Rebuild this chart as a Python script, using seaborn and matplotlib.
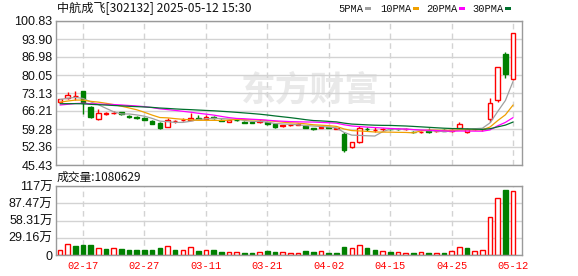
import numpy as np
import pandas as pd
import matplotlib
matplotlib.use("Agg")
import matplotlib.pyplot as plt
from matplotlib.patches import Rectangle
import seaborn as sns

# ---------------- data ----------------
dates = ["02-12", "02-13", "02-14", "02-17", "02-18", "02-19", "02-20", "02-21",
         "02-24", "02-25", "02-26", "02-27", "02-28", "03-03", "03-04", "03-05",
         "03-06", "03-07", "03-10", "03-11", "03-12", "03-13", "03-14", "03-17",
         "03-18", "03-19", "03-20", "03-21", "03-24", "03-25", "03-26", "03-27",
         "03-28", "03-31", "04-01", "04-02", "04-03", "04-07", "04-08", "04-09",
         "04-10", "04-11", "04-14", "04-15", "04-16", "04-17", "04-18", "04-21",
         "04-22", "04-23", "04-24", "04-25", "04-28", "04-29", "04-30", "05-06",
         "05-07", "05-08", "05-09", "05-12"]

opens = [69.6, 71.1, 72.05, 73.9, 67.9, 63.0, 65.2, 65.3, 65.7, 64.2,
         63.9, 63.6, 62.5, 61.7, 60.0, 62.3, 62.7, 62.9, 63.5, 63.2,
         63.8, 62.9, 62.1, 62.9, 62.1, 61.8, 61.8, 61.8, 61.2, 60.3,
         60.8, 61.0, 60.5, 59.5, 59.7, 60.0, 59.4, 57.2, 52.2, 54.2,
         59.4, 58.9, 59.2, 59.4, 59.4, 59.2, 58.2, 58.1, 58.6, 58.5,
         58.9, 58.7, 59.8, 58.0, 59.3, 59.1, 63.0, 70.4, 88.1, 78.4]
highs = [71.0, 73.6, 73.9, 74.0, 68.3, 66.9, 65.9, 66.1, 65.8, 64.8,
         64.1, 63.9, 62.7, 61.8, 63.6, 62.9, 63.5, 65.3, 64.5, 64.7,
         64.3, 63.0, 62.9, 63.1, 62.3, 62.0, 63.1, 61.9, 61.3, 60.9,
         61.3, 61.5, 60.7, 59.8, 60.2, 60.2, 59.8, 58.2, 54.3, 60.3,
         59.9, 59.9, 59.8, 59.7, 59.8, 59.6, 58.6, 58.5, 59.5, 58.9,
         59.1, 59.4, 62.0, 59.5, 59.6, 59.4, 71.2, 83.0, 88.9, 96.3]
lows = [69.4, 71.0, 70.6, 65.2, 63.5, 62.9, 64.5, 64.9, 64.5, 63.7,
        63.2, 62.6, 61.1, 59.3, 59.9, 61.7, 62.2, 62.8, 63.0, 63.0,
        63.1, 62.2, 61.8, 62.4, 61.6, 61.4, 61.5, 60.8, 59.8, 60.1,
        60.6, 60.8, 59.7, 58.9, 59.5, 59.6, 59.1, 50.3, 52.0, 54.0,
        58.4, 58.3, 58.7, 58.9, 58.9, 58.8, 57.6, 57.9, 57.9, 58.2,
        58.5, 58.3, 59.2, 57.8, 58.9, 58.7, 62.1, 69.5, 79.0, 78.3]
closes = [70.8, 72.4, 72.1, 69.2, 64.0, 65.5, 65.3, 65.5, 65.0, 64.0,
          63.7, 62.8, 61.3, 59.8, 62.8, 62.4, 62.75, 63.5, 63.3, 63.9,
          63.5, 62.3, 62.7, 62.75, 61.7, 61.6, 62.3, 61.2, 60.2, 60.8,
          61.0, 61.2, 59.8, 59.3, 60.0, 59.8, 59.5, 51.2, 54.1, 59.5,
          59.1, 59.0, 59.4, 59.1, 59.3, 59.4, 58.0, 58.2, 58.1, 58.6,
          58.5, 58.8, 61.1, 59.2, 59.35, 59.4, 69.2, 83.0, 80.3, 96.3]
# volume in lots (手)
volumes = [85000, 180000, 152000, 169000, 169000, 113000, 101000, 113000, 101000, 85000,
           85000, 85000, 85000, 118000, 146000, 85000, 79000, 130000, 68000, 79000,
           85000, 51000, 51000, 51000, 34000, 34000, 51000, 68000, 51000, 51000,
           34000, 40000, 73000, 56000, 68000, 34000, 34000, 135000, 113000, 164000,
           118000, 85000, 62000, 51000, 45000, 34000, 34000, 45000, 34000, 34000,
           34000, 68000, 135000, 118000, 68000, 85000, 642000, 963000, 1095000, 1080629]
# closes of the 29 sessions before the window (needed for the moving averages)
prior_closes = [72.0, 71.5, 70.8, 70.2, 69.5, 69.8, 70.3, 69.6, 68.9, 67.4,
                66.8, 66.2, 67.0, 67.5, 68.1, 67.6, 67.2, 67.9, 68.3, 67.4,
                68.0, 68.5, 69.2, 68.8, 68.5, 69.8, 70.5, 71.2, 70.7]

price_ticks = [45.43, 52.36, 59.28, 66.21, 73.13, 80.05, 86.98, 93.90, 100.83]
price_tick_labels = ["45.43", "52.36", "59.28", "66.21", "73.13", "80.05", "86.98", "93.90", "100.83"]
vol_ticks = [0, 29.16, 58.31, 87.47, 116.63]
vol_tick_labels = ["0", "29.16万", "58.31万", "87.47万", "117万"]
label_dates = ["02-17", "02-27", "03-11", "03-21", "04-02", "04-15", "04-25", "05-12"]
ma_windows = [5, 10, 20, 30]
ma_names = ["5PMA", "10PMA", "20PMA", "30PMA"]
ma_colors = ["#a0a0a0", "#f0a000", "#ff00ff", "#00702d"]
title_text = "中航成飞[302132] 2025-05-12 15:30"
vol_label = "成交量"
watermark = "东方财富"

RED = "#ff0000"
GREEN = "#008000"
GRID = "#d3d3d3"
SPINE = "#9a9a9a"

# ---------------- derived ----------------
n = len(dates)
idx = np.arange(n)
df = pd.DataFrame({"date": dates, "open": opens, "high": highs, "low": lows,
                   "close": closes, "vol": np.array(volumes) / 1e4, "i": idx})
allc = pd.Series(prior_closes + closes)
for w, name in zip(ma_windows, ma_names):
    df[name] = allc.rolling(w).mean().values[-n:]
prev_close = np.r_[prior_closes[-1], closes[:-1]]
df["vol_up"] = df["close"] >= prev_close

# ---------------- figure ----------------
sns.set_style("white")
plt.rcParams["font.family"] = ["Liberation Sans", "Noto Sans CJK SC", "DejaVu Sans"]

W, H = 578, 276
fig = plt.figure(figsize=(W / 100, H / 100), dpi=100)
fig.patch.set_facecolor("white")
ax = fig.add_axes([56 / W, 1 - 165 / H, 466 / W, 144 / H])
axv = fig.add_axes([56 / W, 1 - 255 / H, 466 / W, 69 / H])

xmin, xmax = -0.52, 60.16
label_pos = [dates.index(d) for d in label_dates]

for a in (ax, axv):
    a.set_xlim(xmin, xmax)
    a.set_facecolor("white")
    for s in a.spines.values():
        s.set_color(SPINE)
        s.set_linewidth(1.0)
    a.set_axisbelow(True)
    a.yaxis.grid(True, color=GRID, linewidth=1.0, linestyle="-")
    a.xaxis.grid(False)
    for p in label_pos:
        a.axvline(p, color=GRID, linewidth=1.0, linestyle=(0, (4, 3)), zorder=0.5)

# watermark
ax.text(310 / W, 1 - 90 / H, watermark, transform=fig.transFigure, fontsize=25,
        fontweight="bold", color="#e9e9e9", ha="center", va="center",
        family=["Noto Sans CJK SC"], zorder=0.3)

# candles
bw = 0.6
for r in df.itertuples():
    up = r.close >= r.open
    col = RED if up else GREEN
    top = max(r.open, r.close)
    bot = min(r.open, r.close)
    h = max(top - bot, 0.06)
    ax.vlines(r.i, top, r.high, color=col, linewidth=1.0, zorder=2)
    ax.vlines(r.i, r.low, bot, color=col, linewidth=1.0, zorder=2)
    ax.bar(r.i, h, bottom=bot, width=bw, facecolor="white" if up else col,
           edgecolor=col, linewidth=1.0, zorder=2.5)

# moving averages
for name, col in zip(ma_names, ma_colors):
    sns.lineplot(data=df, x="i", y=name, color=col, linewidth=0.9, ax=ax,
                 zorder=3, legend=False)

ax.set_ylim(price_ticks[0], price_ticks[-1])
ax.set_yticks(price_ticks)
ax.set_yticklabels(price_tick_labels)
ax.set_xticks([])
ax.set_xlabel("")
ax.set_ylabel("")
ax.tick_params(axis="y", length=0, pad=2.5, labelsize=9, labelcolor="#111111")

# volume bars
for r in df.itertuples():
    col = RED if r.vol_up else GREEN
    axv.bar(r.i, r.vol, width=bw, facecolor="white" if r.vol_up else col,
            edgecolor=col, linewidth=1.0, zorder=2)

axv.set_ylim(0, vol_ticks[-1])
axv.set_yticks(vol_ticks)
axv.set_yticklabels(vol_tick_labels)
axv.tick_params(axis="y", length=0, pad=2.5, labelsize=9, labelcolor="#111111")
axv.set_xticks(label_pos)
axv.set_xticklabels(label_dates, fontsize=7.5, color=RED, family=["Liberation Mono"])
axv.tick_params(axis="x", length=0, pad=4)

# header texts
fig.text(57 / W, 1 - 8.5 / H, title_text, fontsize=8.7, va="center", ha="left",
         color="#111111", family=["Noto Sans CJK SC", "DejaVu Sans"])
fig.text(57 / W, 1 - 177 / H, f"{vol_label}:{volumes[-1]}", fontsize=8.5, va="center",
         ha="left", color="#111111", family=["Noto Sans CJK SC", "DejaVu Sans"])

# legend
leg_x = [338, 380, 426, 472]
rect_x = [365, 413, 459, 505]
for name, col, tx, rx in zip(ma_names, ma_colors, leg_x, rect_x):
    fig.text(tx / W, 1 - 8.5 / H, name, fontsize=7.5, va="center", ha="left",
             color="#111111", family=["Liberation Mono"])
    fig.patches.append(Rectangle((rx / W, 1 - 10 / H), 6 / W, 3 / H,
                                 transform=fig.transFigure, facecolor=col,
                                 edgecolor="none"))

fig.savefig("out.png", dpi=100, facecolor="white")
